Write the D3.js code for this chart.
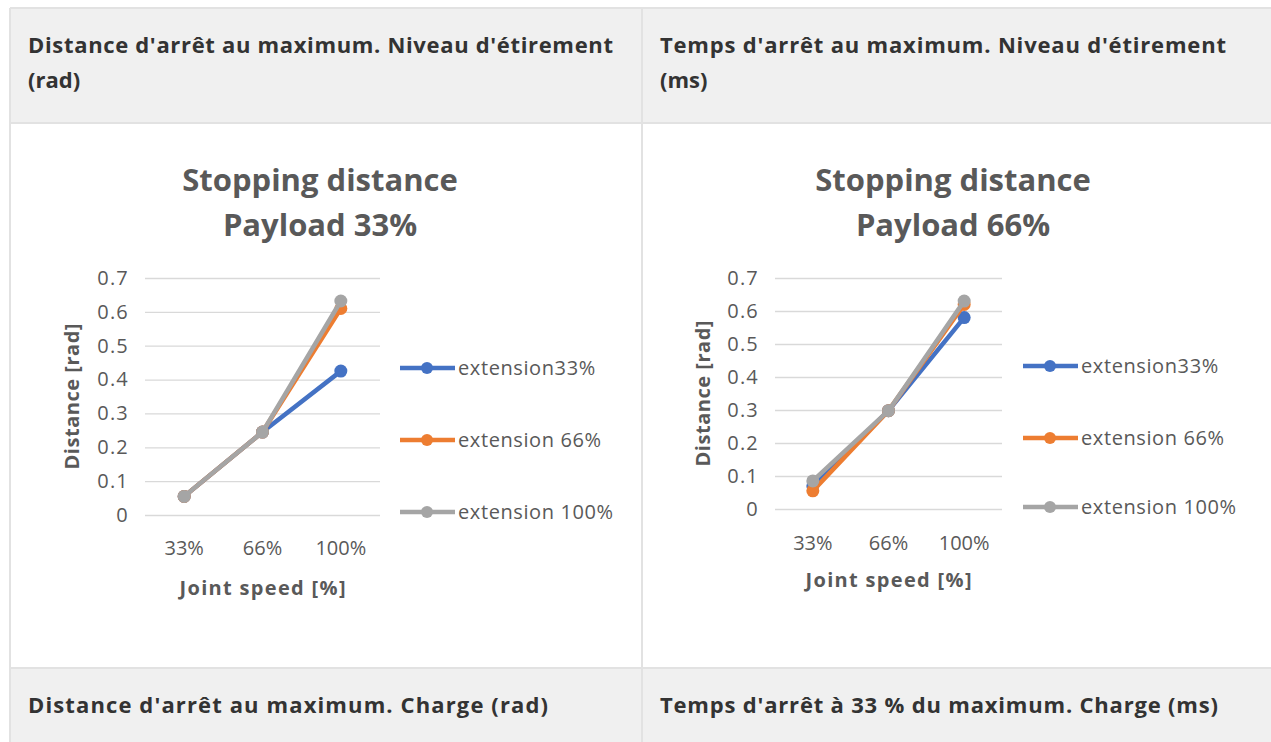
<!DOCTYPE html><html>
<head>
<meta charset="utf-8">
<title>Stopping distance</title>
<style>
  body { margin: 0; background: #fff; }
  svg { display: block; }
  text { font-family: "Open Sans", sans-serif; }
</style>
</head><body>
<svg width="1271" height="742"></svg>

<script src="https://cdnjs.cloudflare.com/ajax/libs/d3/7.8.5/d3.min.js"></script>
<script>
// categories / labels
const speeds = ['33%', '66%', '100%'];
const seriesNames = ['extension33%', 'extension 66%', 'extension 100%'];
const seriesColors = ['#4472C4', '#ED7D31', '#A5A5A5'];
const yTicks = [0, 0.1, 0.2, 0.3, 0.4, 0.5, 0.6, 0.7];

// payload 33%
const p33Ext33  = [0.055, 0.245, 0.425];
const p33Ext66  = [0.055, 0.245, 0.61];
const p33Ext100 = [0.055, 0.245, 0.632];
// payload 66%
const p66Ext33  = [0.07, 0.298, 0.58];
const p66Ext66  = [0.055, 0.298, 0.62];
const p66Ext100 = [0.085, 0.298, 0.63];

const headerTop    = [["Distance d'arrêt au maximum. Niveau d'étirement", "(rad)"],
                      ["Temps d'arrêt au maximum. Niveau d'étirement", "(ms)"]];
const headerBottom = ["Distance d'arrêt au maximum. Charge (rad)",
                      "Temps d'arrêt à 33 % du maximum. Charge (ms)"];

const svg = d3.select('svg');

// table
const border = '#e2e2e2';
svg.append('rect').attr('x', 10).attr('y', 8).attr('width', 1280).attr('height', 115).attr('fill', '#f0f0f0');
svg.append('rect').attr('x', 10).attr('y', 668).attr('width', 1280).attr('height', 90).attr('fill', '#f0f0f0');
[8, 123, 668].forEach(y => svg.append('line').attr('x1', 10).attr('x2', 1271).attr('y1', y).attr('y2', y)
  .attr('stroke', border).attr('stroke-width', 2));
[10, 642].forEach(x => svg.append('line').attr('x1', x).attr('x2', x).attr('y1', 8).attr('y2', 742)
  .attr('stroke', border).attr('stroke-width', 2));

// header cell text; first line stretched to the width it has in the picture
function header(x, y, lines, w) {
  const t = svg.append('text').attr('x', x).attr('y', y)
    .attr('font-size', 22).attr('font-weight', 700).attr('fill', '#333');
  lines.forEach((l, i) => {
    const s = t.append('tspan').attr('x', x).attr('dy', i ? 35 : 0).text(l);
    if (i === 0) s.attr('textLength', w).attr('lengthAdjust', 'spacing');
  });
}
header(28, 53, headerTop[0], 585);
header(660, 53, headerTop[1], 566);
header(28, 713, [headerBottom[0]], 520);
header(660, 713, [headerBottom[1]], 558);

function chart(o) {
  const g = svg.append('g');
  const x = d3.scaleBand().domain(speeds).range([o.x0, o.x1]);
  const y = d3.scaleLinear().domain([0, 0.7]).range([o.y0, o.y1]);

  g.append('g').attr('transform', `translate(${o.x0},0)`)
    .call(d3.axisLeft(y).tickValues(yTicks).tickSize(o.x0 - o.x1).tickFormat(d => d === 0 ? '0' : d3.format('.1f')(d)))
    .call(a => a.select('.domain').remove())
    .call(a => a.selectAll('.tick line').attr('stroke', '#d9d9d9').attr('stroke-width', 1.3))
    .call(a => a.selectAll('.tick text').attr('x', -16).attr('fill', '#595959')
      .attr('font-size', 20).attr('letter-spacing', 1.2).attr('font-family', '"Open Sans", sans-serif'));

  g.append('g').attr('transform', `translate(0,${o.y0})`)
    .call(d3.axisBottom(x).tickSize(0))
    .call(a => a.select('.domain').remove())
    .call(a => a.selectAll('.tick text').attr('y', o.xlab - o.y0).attr('dy', '0.35em').attr('fill', '#595959')
      .attr('font-size', 20).attr('font-family', '"Open Sans", sans-serif'));

  const line = d3.line().x((d, i) => x(speeds[i]) + x.bandwidth() / 2).y(d => y(d));
  o.series.forEach((s, k) => {
    g.append('path').datum(s).attr('d', line).attr('fill', 'none')
      .attr('stroke', seriesColors[k]).attr('stroke-width', 4.5).attr('stroke-linejoin', 'round');
    g.selectAll(null).data(s).enter().append('circle')
      .attr('cx', (d, i) => x(speeds[i]) + x.bandwidth() / 2).attr('cy', d => y(d))
      .attr('r', 6.5).attr('fill', seriesColors[k]);
  });

  const cx = (o.x0 + o.x1) / 2;
  g.append('text').attr('x', o.tx).attr('y', 191).attr('text-anchor', 'middle')
    .attr('font-size', 31).attr('font-weight', 700).attr('fill', '#595959').text('Stopping distance');
  g.append('text').attr('x', o.tx).attr('y', 236).attr('text-anchor', 'middle')
    .attr('font-size', 31).attr('font-weight', 700).attr('fill', '#595959').text(o.title);

  g.append('text').attr('x', cx).attr('y', o.xtitle).attr('dy', '0.35em').attr('text-anchor', 'middle')
    .attr('font-size', 20).attr('font-weight', 700).attr('fill', '#595959')
    .attr('textLength', 166).attr('lengthAdjust', 'spacing').text('Joint speed [%]');
  g.append('text').attr('transform', `translate(${o.ytx},${(o.y0 + o.y1) / 2}) rotate(-90)`)
    .attr('dy', '0.35em').attr('text-anchor', 'middle')
    .attr('font-size', 20).attr('font-weight', 700).attr('fill', '#595959')
    .attr('textLength', 146).attr('lengthAdjust', 'spacing').text('Distance [rad]');

  const leg = g.selectAll('.leg').data(seriesNames).enter().append('g')
    .attr('transform', (d, i) => `translate(${o.lx},${o.ly[i]})`);
  leg.append('line').attr('x1', 0).attr('x2', 55).attr('stroke', (d, i) => seriesColors[i]).attr('stroke-width', 4.5);
  leg.append('circle').attr('cx', 27).attr('r', 6).attr('fill', (d, i) => seriesColors[i]);
  leg.append('text').attr('x', 58).attr('dy', '0.35em').attr('font-size', 20).attr('letter-spacing', 0.6)
    .attr('fill', '#595959').text(d => d);
}

chart({ x0: 145, x1: 380, y0: 515, y1: 278, xlab: 548, xtitle: 588, ytx: 72, tx: 320, title: 'Payload 33%',
        lx: 400, ly: [368, 440, 512], series: [p33Ext33, p33Ext66, p33Ext100] });
chart({ x0: 775, x1: 1002, y0: 509, y1: 278, xlab: 543, xtitle: 580, ytx: 703, tx: 953, title: 'Payload 66%',
        lx: 1023, ly: [366, 438, 507], series: [p66Ext33, p66Ext66, p66Ext100] });
</script>
</body></html>
